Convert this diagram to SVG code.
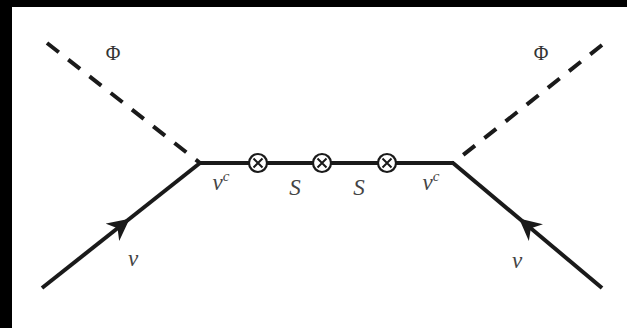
<svg xmlns="http://www.w3.org/2000/svg" width="627" height="328" viewBox="0 0 627 328">
<style>
.line{stroke:#1a1a1a;stroke-width:4;fill:none;stroke-linecap:butt}
.dash{stroke:#1a1a1a;stroke-width:4;fill:none;stroke-dasharray:15 12}
.lbl{font-family:"Liberation Serif",serif;font-style:italic;font-size:23px;fill:#444;text-anchor:middle}
.phi{font-family:"Liberation Serif",serif;font-size:20px;fill:#333;text-anchor:middle}
.ins{fill:#fff;stroke:#1a1a1a;stroke-width:2.2}
.xm{stroke:#1a1a1a;stroke-width:2;fill:none}
</style>
<defs>
<marker id="arr" viewBox="0 0 10 10" refX="5" refY="5" markerWidth="5.5" markerHeight="5.5" orient="auto" markerUnits="strokeWidth">
<path d="M0,0 L10,5 L0,10 L3,5 z" fill="#1a1a1a"/>
</marker>
</defs>
<rect x="0" y="0" width="627" height="328" fill="#fff"/>
<rect x="0" y="0" width="627" height="7" fill="#000"/>
<rect x="0" y="0" width="12" height="328" fill="#000"/>
<g id="connectors">
<line class="dash" x1="47" y1="43" x2="200" y2="163"/>
<line class="dash" x1="602" y1="45" x2="453" y2="163"/>
<path class="line" d="M42,288 L121,225.5" marker-end="url(#arr)"/>
<line class="line" x1="121" y1="225.5" x2="200" y2="163"/>
<path class="line" d="M602,288 L527.5,225.5" marker-end="url(#arr)"/>
<line class="line" x1="527.5" y1="225.5" x2="453" y2="163"/>
<line class="line" x1="199" y1="163" x2="454" y2="163"/>
</g>
<g id="x1"><circle class="ins" cx="258" cy="163" r="9"/><path class="xm" d="M253.5,158.5 L262.5,167.5 M262.5,158.5 L253.5,167.5"/></g>
<g id="x2"><circle class="ins" cx="322" cy="163" r="9"/><path class="xm" d="M317.5,158.5 L326.5,167.5 M326.5,158.5 L317.5,167.5"/></g>
<g id="x3"><circle class="ins" cx="387" cy="163" r="9"/><path class="xm" d="M382.5,158.5 L391.5,167.5 M391.5,158.5 L382.5,167.5"/></g>
<g id="labels">
<text class="phi" x="113" y="60">Φ</text>
<text class="phi" x="541" y="60">Φ</text>
<text class="lbl" x="221" y="190">ν<tspan font-size="15" dy="-9">c</tspan></text>
<text class="lbl" x="295" y="195">S</text>
<text class="lbl" x="359" y="195">S</text>
<text class="lbl" x="431" y="190">ν<tspan font-size="15" dy="-9">c</tspan></text>
<text class="lbl" x="133" y="266">ν</text>
<text class="lbl" x="517" y="268">ν</text>
</g>
</svg>
